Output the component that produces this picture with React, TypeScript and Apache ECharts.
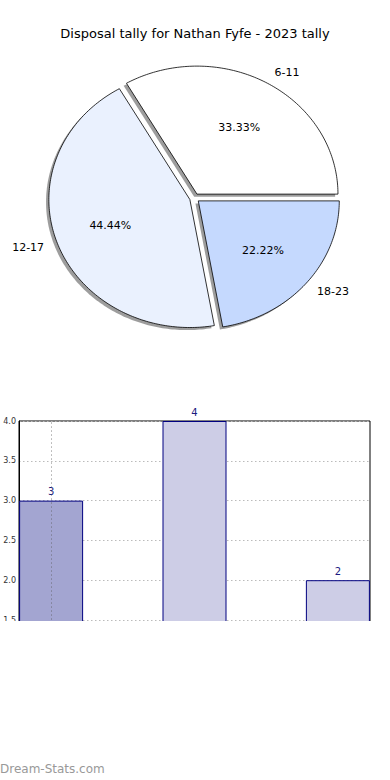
import React, { useEffect, useRef } from "react";
import * as echarts from "echarts";

const title = "Disposal tally for Nathan Fyfe - 2023 tally";
const categories = ["6-11", "12-17", "18-23"];
const pieValues = [3, 4, 2];
const pieColors = ["#ffffff", "#eaf1fe", "#c5d9fe"];
const barValues = [3, 4, 2];
const barColors = ["#a3a5d1", "#cdcde6", "#cdcde6"];
const yTicks = { min: 1.0, max: 4.0, interval: 0.5 };
const vGridAt = [0];
const watermark = "Dream-Stats.com";

const FONT = "'DejaVu Sans', sans-serif";

export default function App() {
  const ref = useRef<HTMLDivElement>(null);
  useEffect(() => {
    if (!ref.current) return;
    const chart = echarts.init(ref.current, undefined, { renderer: "svg" });
    const total = pieValues.reduce((a, b) => a + b, 0);
    const cx = 194.5, cy = 198, rx = 141, ry = 128;
    const explode = 0.035;

    const renderPie = (params: any, api: any) => {
      const i = params.dataIndex;
      const v = api.value(0);
      let cum = 0;
      for (let k = 0; k < i; k++) cum += pieValues[k];
      const a0 = (360 * cum) / total;
      const a1 = a0 + (360 * v) / total;
      const mid = ((a0 + a1) / 2) * Math.PI / 180;
      const ox = explode * rx * Math.cos(mid);
      const oy = -explode * ry * Math.sin(mid);
      const pts: number[][] = [[cx + ox, cy + oy]];
      const steps = Math.max(8, Math.ceil(a1 - a0));
      for (let s = 0; s <= steps; s++) {
        const t = (a0 + ((a1 - a0) * s) / steps) * Math.PI / 180;
        pts.push([cx + ox + rx * Math.cos(t), cy + oy - ry * Math.sin(t)]);
      }
      const sdx = -0.02 * rx, sdy = 0.02 * ry;
      const shadowPts = pts.map((p) => [p[0] + sdx, p[1] + sdy]);
      const px = cx + ox + 0.6 * rx * Math.cos(mid);
      const py = cy + oy - 0.6 * ry * Math.sin(mid);
      const nx = cx + ox + 1.1 * rx * Math.cos(mid);
      const ny = cy + oy - 1.1 * ry * Math.sin(mid);
      return {
        type: "group",
        children: [
          {
            type: "polygon",
            z2: 0,
            shape: { points: shadowPts },
            style: { fill: "rgba(60,60,60,0.5)", stroke: "none" },
          },
          {
            type: "polygon",
            z2: 10,
            shape: { points: pts },
            style: { fill: pieColors[i], stroke: "#000000", lineWidth: 0.8 },
          },
          {
            type: "text",
            z2: 20,
            style: {
              text: ((100 * v) / total).toFixed(2) + "%",
              x: px,
              y: py,
              align: "center",
              verticalAlign: "middle",
              fill: "#000000",
              font: "11px " + FONT,
            },
          },
          {
            type: "text",
            z2: 20,
            style: {
              text: categories[i],
              x: nx,
              y: ny,
              align: Math.cos(mid) >= 0 ? "left" : "right",
              verticalAlign: "middle",
              fill: "#000000",
              font: "11px " + FONT,
            },
          },
        ],
      };
    };

    const renderVGrid = (params: any, api: any) => {
      const x = api.value(0);
      const p0 = api.coord([x, yTicks.min]);
      const p1 = api.coord([x, yTicks.max]);
      return {
        type: "line",
        z2: 50,
        shape: { x1: Math.round(p0[0]) + 0.5, y1: p0[1], x2: Math.round(p1[0]) + 0.5, y2: p1[1] },
        style: { stroke: "rgba(90,90,90,0.5)", lineWidth: 1, lineDash: [1.5, 2.5], fill: "none" },
      };
    };

    chart.setOption({
      animation: false,
      title: {
        text: title,
        left: "center",
        top: 22,
        textStyle: { fontFamily: FONT, fontSize: 13, fontWeight: "normal", color: "#000" },
      },
      grid: {
        left: 19,
        top: 421,
        width: 351,
        height: 238.8,
        show: true,
        borderColor: "#000",
        borderWidth: 1,
        backgroundColor: "transparent",
        containLabel: false,
      },
      xAxis: {
        type: "value",
        min: -0.224,
        max: 2.224,
        axisLabel: { show: false },
        axisTick: { show: false },
        axisLine: { show: false, onZero: false },
        splitLine: { show: false },
      },
      yAxis: {
        type: "value",
        min: yTicks.min,
        max: yTicks.max,
        interval: yTicks.interval,
        axisLine: { show: true, onZero: false, lineStyle: { color: "#000" } },
        axisTick: { show: false },
        axisLabel: {
          fontFamily: FONT,
          fontSize: 8,
          color: "#333",
          margin: 3,
          formatter: (v: number) => v.toFixed(1),
        },
        splitLine: { show: true, lineStyle: { color: "#bbbbbb", type: [1.5, 2.5], width: 1 } },
      },
      series: [
        {
          type: "custom",
          coordinateSystem: "none",
          renderItem: renderPie,
          data: pieValues.map((v) => [v]),
          silent: true,
        },
        {
          type: "bar",
          z: 2,
          data: barValues.map((v, i) => ({
            value: [i, v],
            itemStyle: { color: barColors[i], borderColor: "#000080", borderWidth: 1 },
          })),
          barWidth: 64,
          label: {
            show: true,
            position: "top",
            distance: 4,
            color: "#1a1a80",
            fontFamily: FONT,
            fontSize: 10,
            formatter: (p: any) => String(p.value[1]),
          },
        },
        {
          type: "custom",
          coordinateSystem: "cartesian2d",
          z: 5,
          silent: true,
          renderItem: renderVGrid,
          data: vGridAt.map((x) => [x, yTicks.max]),
        },
      ],
      graphic: [
        {
          type: "rect",
          z: 100,
          shape: { x: 0, y: 621, width: 390, height: 130 },
          style: { fill: "#ffffff" },
        },
        {
          type: "text",
          z: 101,
          left: 0,
          top: 763,
          style: { text: watermark, font: "12px " + FONT, fill: "#999999" },
        },
      ],
    });
    return () => chart.dispose();
  }, []);
  return (
    <div
      ref={ref}
      style={{ position: "fixed", left: 0, top: 0, width: 390, height: 780, background: "#fff" }}
    />
  );
}
